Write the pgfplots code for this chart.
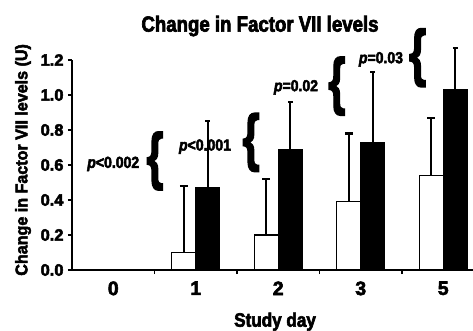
\documentclass[border=0pt]{standalone}
\usepackage{fontspec}
\setmainfont{Liberation Sans}[BoldFeatures={FakeBold=3}, BoldItalicFeatures={FakeBold=3}]
\newfontfamily\condA{Liberation Sans}[FakeStretch=0.85, BoldFeatures={FakeBold=3}]
\newfontfamily\condB{Liberation Sans}[FakeStretch=0.88, BoldFeatures={FakeBold=3}, BoldItalicFeatures={FakeBold=3}]
\newfontfamily\condC{Liberation Sans}[FakeStretch=0.95, BoldFeatures={FakeBold=3}]
\usepackage{graphicx}
\usepackage{pgfplots}
\pgfplotsset{compat=1.18}
\usetikzlibrary{calc}
\newcommand{\fs}[1]{\fontsize{#1}{#1}\selectfont}
\newcommand{\brc}{\resizebox*{17bp}{58bp}{\bfseries\{}}
\begin{document}
\begin{tikzpicture}
\begin{axis}[name=ax,
  scale only axis, width=401bp, height=210bp,
  xmin=-0.5, xmax=4.3606, ymin=0, ymax=1.2,
  clip=false,
  ybar=0pt, bar width=24bp,
  axis lines=left,
  axis line style={-, line width=1.8bp},
  tick align=outside,
  major tick length=4bp,
  tick style={line width=1.5bp, black},
  xtick={0,1,2,3,4}, xticklabels={0,1,2,3,5},
  xtick style={draw=none},
  extra x ticks={0.5,1.5,2.5,3.5}, extra x tick labels={},
  extra x tick style={xtick style={draw=black}},
  ytick={0,0.2,0.4,0.6,0.8,1.0,1.2},
  /pgf/number format/assume math mode=true,
  yticklabel style={/pgf/number format/fixed, /pgf/number format/fixed zerofill, /pgf/number format/precision=1},
  y tick label style={font=\bfseries\fs{16.5}, xshift=-1bp},
  x tick label style={font=\bfseries\fs{19.5}, yshift=-4bp},
]
\addplot[fill=white, draw=black, line width=1.3bp,
  error bars/.cd, y dir=plus, y explicit,
  error bar style={line width=2.2bp, black},
  error mark options={rotate=90, mark size=4bp, line width=2.2bp, black}]
  coordinates {(0,0) +- (0,0) (1,0.10) +- (0,0.38) (2,0.20) +- (0,0.32) (3,0.39) +- (0,0.39) (4,0.54) +- (0,0.33)};
\addplot[fill=black, draw=black, line width=1.3bp,
  error bars/.cd, y dir=plus, y explicit,
  error bar style={line width=2.2bp, black},
  error mark options={rotate=90, mark size=2.5bp, line width=2.2bp, black}]
  coordinates {(0,0) +- (0,0) (1,0.47) +- (0,0.38) (2,0.69) +- (0,0.27) (3,0.73) +- (0,0.40) (4,1.03) +- (0,0.24)};
% annotations
\node[font=\condB\bfseries\fs{16}] at (axis cs:0.0,0.606) {\textit{p}<0.002};
\node[font=\condB\bfseries\fs{16}] at (axis cs:1.112,0.705) {\textit{p}<0.001};
\node[font=\condB\bfseries\fs{16}] at (axis cs:2.215,1.044) {\textit{p}=0.02};
\node[font=\condB\bfseries\fs{16}] at (axis cs:3.245,1.204) {\textit{p}=0.03};
\node[inner sep=0pt] at (axis cs:0.506,0.623) {\brc};
\node[inner sep=0pt] at (axis cs:1.67,0.729) {\brc};
\node[inner sep=0pt] at (axis cs:2.71,1.051) {\brc};
\node[inner sep=0pt] at (axis cs:3.69,1.213) {\brc};
\node[font=\condA\bfseries\fs{22}, anchor=base] at (axis cs:1.779,1.362) {Change in Factor VII levels};
\node[font=\condC\bfseries\fs{17}, rotate=90] at (axis cs:-1.094,0.629) {Change in Factor VII levels (U)};
\node[font=\condB\bfseries\fs{19.5}, anchor=base] at (axis cs:1.961,-0.324) {Study day};
\end{axis}
\pgfresetboundingbox
\path[use as bounding box] ($(ax.south west)+(-72bp,-61bp)$) rectangle ($(ax.south west)+(401bp,270bp)$);
\end{tikzpicture}
\end{document}
